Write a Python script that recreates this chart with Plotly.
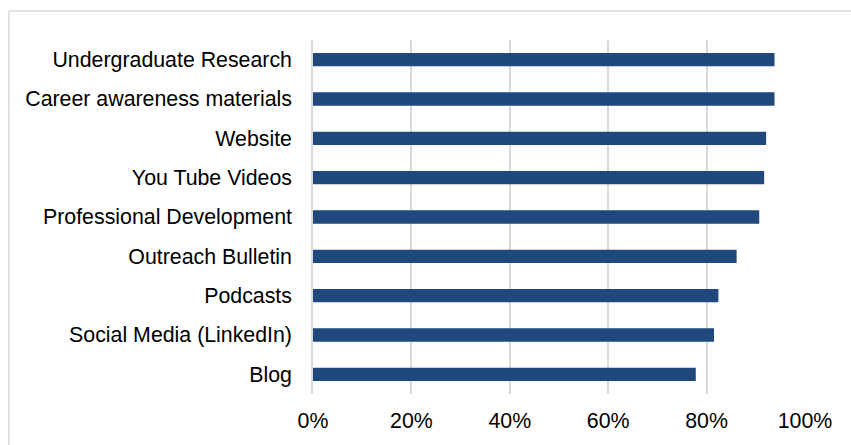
import plotly.graph_objects as go

# Share of respondents rating each outreach resource as useful
categories = [
    "Blog",
    "Social Media (LinkedIn)",
    "Podcasts",
    "Outreach Bulletin",
    "Professional Development",
    "You Tube Videos",
    "Website",
    "Career awareness materials",
    "Undergraduate Research",
]
shares = [0.778, 0.815, 0.824, 0.861, 0.907, 0.917, 0.921, 0.938, 0.938]

tick_values = [0, 0.2, 0.4, 0.6, 0.8, 1.0]
tick_labels = ["0%", "20%", "40%", "60%", "80%", "100%"]

BAR_COLOR = "#1f497d"
GRID_COLOR = "#d9d9d9"
FONT = "Liberation Sans, Arial, sans-serif"
FONT_SIZE = 21.33

fig = go.Figure(
    go.Bar(
        x=shares,
        y=categories,
        orientation="h",
        marker=dict(color=BAR_COLOR, line=dict(width=0)),
        hovertemplate="%{y}: %{x:.0%}<extra></extra>",
    )
)

fig.update_layout(
    width=851,
    height=445,
    margin=dict(l=313, r=46, t=40, b=49),
    paper_bgcolor="white",
    plot_bgcolor="white",
    bargap=0.66,
    showlegend=False,
    font=dict(family=FONT, size=FONT_SIZE, color="#000000"),
    xaxis=dict(
        range=[0, 1.0],
        tickvals=tick_values,
        ticktext=tick_labels,
        showgrid=True,
        gridcolor=GRID_COLOR,
        gridwidth=1.5,
        zeroline=False,
        showline=False,
        ticks="",
        ticklabelstandoff=12,
        tickfont=dict(family=FONT, size=FONT_SIZE, color="#000000"),
        fixedrange=True,
    ),
    yaxis=dict(
        showgrid=False,
        zeroline=False,
        showline=True,
        linecolor=GRID_COLOR,
        linewidth=1.5,
        ticks="",
        ticklabelstandoff=15,
        tickfont=dict(family=FONT, size=FONT_SIZE, color="#000000"),
        fixedrange=True,
    ),
    shapes=[
        dict(
            type="rect",
            xref="paper",
            yref="paper",
            x0=-0.618,
            x1=1.1,
            y0=-0.2,
            y1=1.082,
            line=dict(color=GRID_COLOR, width=1.5),
            fillcolor="rgba(0,0,0,0)",
            layer="below",
        )
    ],
)

fig.write_html("out.html")
